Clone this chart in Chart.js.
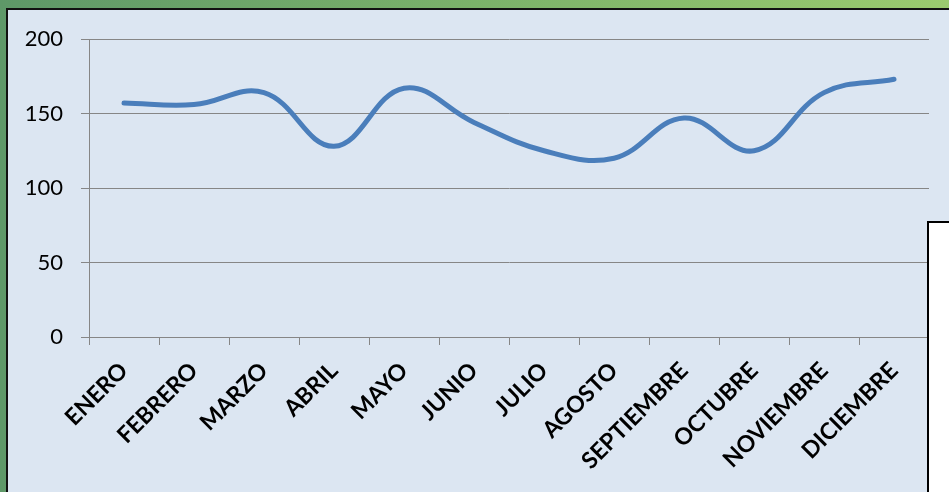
<!DOCTYPE html>
<html>
<head>
<meta charset="utf-8">
<script src="https://cdn.jsdelivr.net/npm/chart.js@4/dist/chart.umd.min.js"></script>
<style>
  html, body { margin: 0; padding: 0; width: 949px; height: 492px; overflow: hidden; }
  body { background: linear-gradient(to right, #5e9868 0%, #7bb26a 50%, #9bcb6f 100%); position: relative; }
  #frame { position: absolute; left: 6px; top: 8px; right: 0; bottom: 0; background: #dce6f2; border-left: 2px solid #111; border-top: 2px solid #111; }
  #wrap { position: absolute; left: 0; top: 0; width: 949px; height: 492px; }
  #box { position: absolute; left: 927px; top: 221px; right: 0; bottom: 0; background: #fff; border-left: 2px solid #000; border-top: 2px solid #000; }
</style>
</head>
<body>
<div id="frame"></div>
<div id="wrap"><canvas id="c" width="949" height="492"></canvas></div>
<div id="box"></div>
<script>
const months = ['ENERO','FEBRERO','MARZO','ABRIL','MAYO','JUNIO','JULIO','AGOSTO','SEPTIEMBRE','OCTUBRE','NOVIEMBRE','DICIEMBRE'];
const values = [157, 156, 164, 128, 167, 144, 125, 120, 147, 125, 164, 173];
const yTicks = [0, 50, 100, 150, 200];

const ctx = document.getElementById('c');
new Chart(ctx, {
  type: 'line',
  data: {
    labels: months,
    datasets: [{
      data: values,
      borderColor: '#4a7ebb',
      borderWidth: 5,
      tension: 0.4,
      pointRadius: 0,
      borderCapStyle: 'round',
      fill: false
    }]
  },
  options: {
    responsive: false,
    animation: false,
    devicePixelRatio: 1,
    layout: { padding: { left: 0, top: 39, right: 20, bottom: 0 } },
    plugins: { legend: { display: false }, tooltip: { enabled: false } },
    scales: {
      x: {
        offset: true,
        grid: { offset: true, drawOnChartArea: false, drawTicks: true, tickLength: 8, color: '#868686', lineWidth: 1 },
        border: { color: '#868686', width: 1 },
        ticks: { color: '#000', font: { family: 'Lato', weight: 'bold', size: 23 }, minRotation: 45, maxRotation: 45, padding: 12, autoSkip: false },
        afterFit: s => { s.height = 492 - 337; }
      },
      y: {
        min: 0, max: 200,
        afterBuildTicks: s => { s.ticks = yTicks.map(v => ({ value: v })); },
        grid: { color: '#868686', lineWidth: 1, tickLength: 8, drawTicks: true },
        border: { color: '#868686', width: 1 },
        ticks: { color: '#000', font: { family: 'Lato', size: 22 }, padding: 18 },
        afterFit: s => { s.width = 89; }
      }
    }
  }
});
</script>
</body>
</html>
